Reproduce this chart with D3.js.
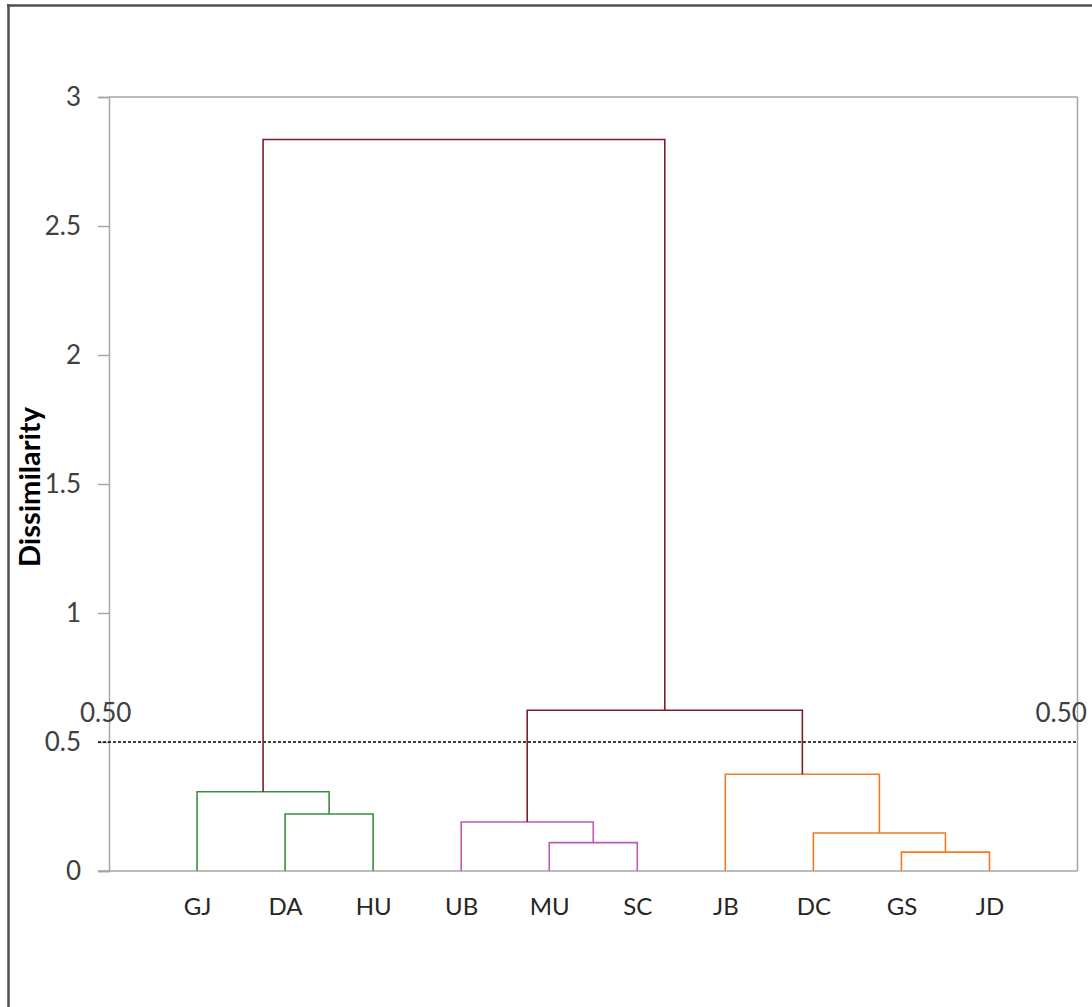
<!DOCTYPE html>
<html>
<head>
<meta charset="utf-8">
<script src="https://cdn.jsdelivr.net/npm/d3@7"></script>
<style>
  html, body { margin: 0; padding: 0; background: #fff; }
  svg { display: block; }
</style>
</head>
<body>
<svg id="chart" width="1092" height="1007"></svg>
<script>
// ---- data ----
const leaves = ["GJ", "DA", "HU", "UB", "MU", "SC", "JB", "DC", "GS", "JD"];
// each merge: [left child, right child]; merge i creates node "c" + (i+1)
const mergePairs = [
  ["DA", "HU"],
  ["GJ", "c1"],
  ["MU", "SC"],
  ["UB", "c3"],
  ["GS", "JD"],
  ["DC", "c5"],
  ["JB", "c6"],
  ["c4", "c7"],
  ["c2", "c8"]
];
const mergeHeights = [0.221, 0.307, 0.110, 0.190, 0.073, 0.147, 0.375, 0.623, 2.835];
const mergeGroup = ["A", "A", "B", "B", "C", "C", "C", "R", "R"];
const yTicks = [0, 0.5, 1, 1.5, 2, 2.5, 3];
const threshold = 0.5;
const thresholdLabel = "0.50";
const yTitle = "Dissimilarity";

// ---- styles ----
const groupColor = { A: "#3d8f3d", B: "#c25bb3", C: "#f27b22", R: "#7b1f2b" };
const plotL = 109, plotR = 1077.5, plotT = 97, plotB = 871;

const svg = d3.select("#chart");

// outer frame (left and top edges visible)
svg.append("line").attr("x1", 8.5).attr("x2", 8.5).attr("y1", 4).attr("y2", 1007)
  .attr("stroke", "#505050").attr("stroke-width", 2.5);
svg.append("line").attr("x1", 7).attr("x2", 1092).attr("y1", 5.5).attr("y2", 5.5)
  .attr("stroke", "#505050").attr("stroke-width", 2.5);

const x = d3.scalePoint().domain(leaves).range([plotL, plotR]).padding(1);
const y = d3.scaleLinear().domain([0, 3]).range([plotB, plotT]);

// plot frame top & right
svg.append("line").attr("x1", plotL).attr("x2", plotR).attr("y1", y(3)).attr("y2", y(3))
  .attr("stroke", "#a6a6a6").attr("stroke-width", 1.5);
svg.append("line").attr("x1", plotR).attr("x2", plotR).attr("y1", y(3)).attr("y2", y(0))
  .attr("stroke", "#a6a6a6").attr("stroke-width", 1.5);

// y axis
const yAxis = svg.append("g").attr("transform", `translate(${plotL},0)`)
  .call(d3.axisLeft(y).tickValues(yTicks).tickFormat(d => String(d)).tickSize(11).tickPadding(17));
yAxis.select(".domain").attr("stroke", "#a6a6a6").attr("stroke-width", 1.5);
yAxis.selectAll(".tick line").attr("stroke", "#a6a6a6").attr("stroke-width", 1.5);
yAxis.selectAll("text").attr("font-family", "Lato, 'Open Sans', sans-serif")
  .attr("font-size", 26).attr("fill", "#404040");

// x axis
const xAxis = svg.append("g").attr("transform", `translate(0,${plotB})`)
  .call(d3.axisBottom(x).tickSize(0).tickPadding(27));
xAxis.select(".domain").remove();
svg.append("line").attr("x1", plotL - 11).attr("x2", plotR).attr("y1", plotB).attr("y2", plotB)
  .attr("stroke", "#a6a6a6").attr("stroke-width", 1.5);
xAxis.selectAll("text").attr("font-family", "Lato, 'Open Sans', sans-serif")
  .attr("font-size", 24).attr("fill", "#262626");

// y title
svg.append("text")
  .attr("transform", `translate(40,${(plotT + plotB) / 2 + 3}) rotate(-90)`)
  .attr("text-anchor", "middle")
  .attr("font-family", "Lato, 'Open Sans', sans-serif")
  .attr("font-weight", "bold").attr("font-size", 29).attr("fill", "#000")
  .text(yTitle);

// threshold line
svg.append("line").attr("x1", plotL - 11).attr("x2", plotR)
  .attr("y1", y(threshold)).attr("y2", y(threshold))
  .attr("stroke", "#000").attr("stroke-width", 1.3).attr("stroke-dasharray", "3,2");
svg.append("text").attr("x", plotL - 29).attr("y", y(threshold) - 20)
  .attr("font-family", "Lato, 'Open Sans', sans-serif").attr("font-size", 26).attr("fill", "#404040")
  .text(thresholdLabel);
svg.append("text").attr("x", plotR - 42).attr("y", y(threshold) - 20)
  .attr("font-family", "Lato, 'Open Sans', sans-serif").attr("font-size", 26).attr("fill", "#404040")
  .text(thresholdLabel);

// dendrogram
const nodes = {};
leaves.forEach(l => { nodes[l] = { x: x(l), h: 0 }; });
const g = svg.append("g").attr("fill", "none").attr("stroke-width", 1.6);
mergePairs.forEach((pair, i) => {
  const a = nodes[pair[0]], b = nodes[pair[1]], h = mergeHeights[i];
  const path = d3.path();
  path.moveTo(a.x, y(a.h));
  path.lineTo(a.x, y(h));
  path.lineTo(b.x, y(h));
  path.lineTo(b.x, y(b.h));
  g.append("path").attr("d", path.toString()).attr("stroke", groupColor[mergeGroup[i]]);
  nodes["c" + (i + 1)] = { x: (a.x + b.x) / 2, h: h };
});
</script>
</body>
</html>
